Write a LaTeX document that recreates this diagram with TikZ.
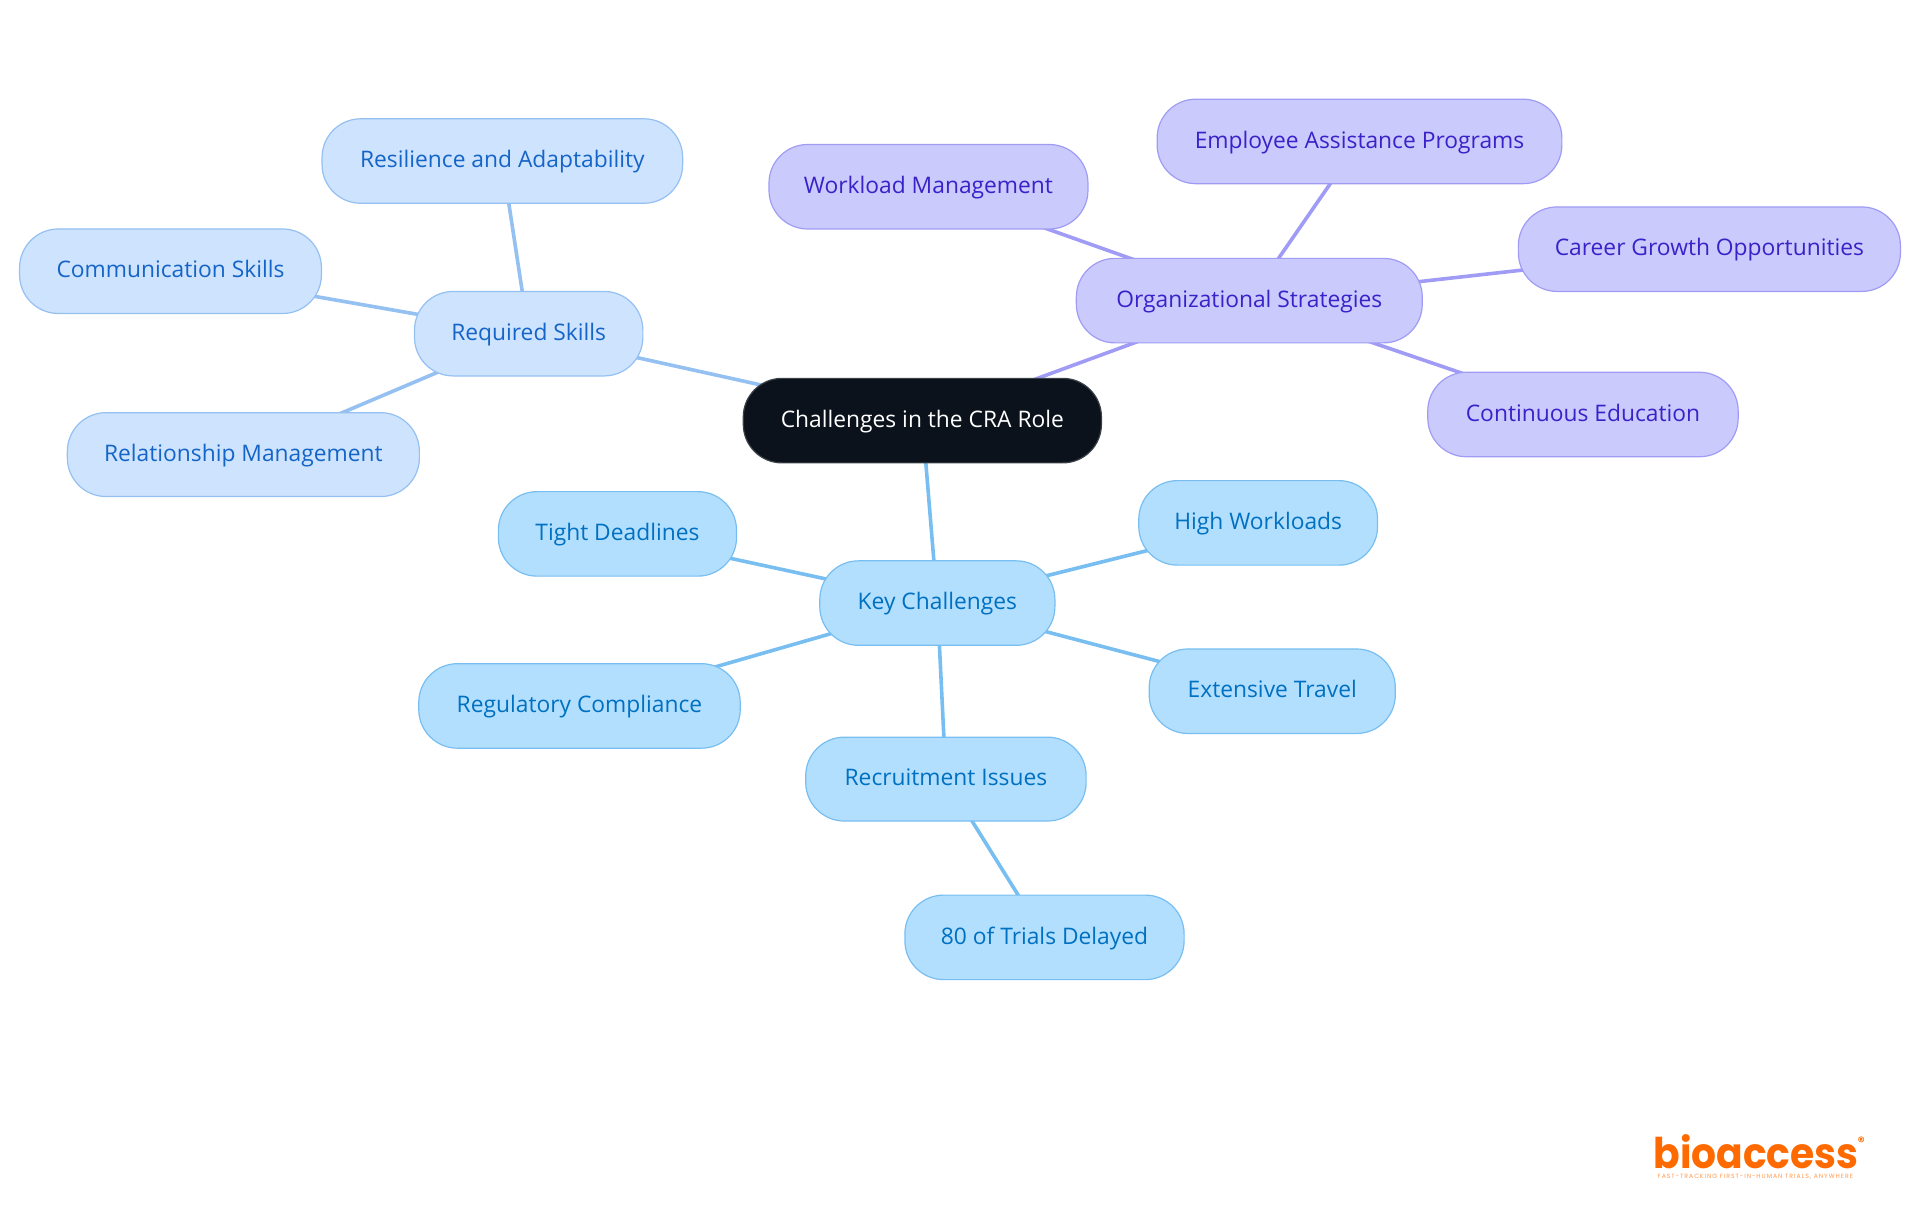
\documentclass[tikz,border=0pt]{standalone}
\usepackage{fontspec}
\setmainfont{Open Sans}
\newfontfamily\logofont{Poppins}[BoldFont={* Bold}]
\newfontfamily\tagfont{Poppins}[LetterSpace=16]
\definecolor{rootfill}{HTML}{0B121B}
\definecolor{rootline}{HTML}{3B4148}
\definecolor{keyfill}{HTML}{B3DFFF}
\definecolor{keyline}{HTML}{78BEF0}
\definecolor{keytext}{HTML}{0070C0}
\definecolor{reqfill}{HTML}{CEE3FD}
\definecolor{reqline}{HTML}{94C0F2}
\definecolor{reqtext}{HTML}{1565C8}
\definecolor{orgfill}{HTML}{CACAFD}
\definecolor{orgline}{HTML}{A09CF5}
\definecolor{orgtext}{HTML}{3A22C8}
\definecolor{logoorange}{HTML}{FF6A00}
\tikzset{
  pill/.style={draw,line width=0.9pt,rounded corners=29pt,inner sep=0pt,text height=14pt,text depth=4pt,font=\fontsize{17.1}{20}\selectfont},
  rootpill/.style={pill,fill=rootfill,draw=rootline,text=white},
  keypill/.style={pill,fill=keyfill,draw=keyline,text=keytext},
  reqpill/.style={pill,fill=reqfill,draw=reqline,text=reqtext},
  orgpill/.style={pill,fill=orgfill,draw=orgline,text=orgtext},
  keylink/.style={draw=keyline,line width=2.7pt},
  reqlink/.style={draw=reqline,line width=2.7pt},
  orglink/.style={draw=orgline,line width=2.7pt},
}
\newcommand{\pillnode}[7]{%
  \pgfmathsetmacro{\pcx}{(#2+#3)/2}%
  \pgfmathsetmacro{\pcy}{(#4+#5)/2}%
  \pgfmathsetmacro{\pw}{(#3-#2)*0.9184}%
  \pgfmathsetmacro{\ph}{(#5-#4)*0.9184}%
  \node[#6,minimum width=\pw pt,minimum height=\ph pt] (#1) at (\pcx,\pcy) {#7};%
}
\begin{document}
\begin{tikzpicture}[x=0.9184pt,y=-0.9184pt]
\useasboundingbox (0,0) rectangle (1568,992.2);
\pgfdeclarelayer{bg}\pgfsetlayers{bg,main}
\pillnode{root}{607}{899.5}{309}{378}{rootpill}{Challenges in the CRA Role}
\pillnode{req}{338.5}{525}{238}{307}{reqpill}{Required Skills}
\pillnode{res}{263}{557.5}{97}{166}{reqpill}{Resilience and Adaptability}
\pillnode{com}{16}{262.5}{187}{256}{reqpill}{Communication Skills}
\pillnode{rel}{55}{342.5}{337}{405.5}{reqpill}{Relationship Management}
\pillnode{org}{879}{1161.5}{211}{280}{orgpill}{Organizational Strategies}
\pillnode{wor}{628}{888.5}{118}{187}{orgpill}{Workload Management}
\pillnode{emp}{945}{1275.5}{81}{150}{orgpill}{Employee Assistance Programs}
\pillnode{car}{1240}{1552}{169}{238}{orgpill}{Career Growth Opportunities}
\pillnode{con}{1166}{1419.5}{304}{373}{orgpill}{Continuous Education}
\pillnode{key}{669.5}{861.5}{458}{527}{keypill}{Key Challenges}
\pillnode{tig}{407}{601.5}{401.5}{470.5}{keypill}{Tight Deadlines}
\pillnode{hig}{930}{1125}{392.5}{461.5}{keypill}{High Workloads}
\pillnode{ext}{938.5}{1139.5}{530}{599}{keypill}{Extensive Travel}
\pillnode{reg}{342}{604.5}{542}{611}{keypill}{Regulatory Compliance}
\pillnode{rec}{658}{887}{602}{670.5}{keypill}{Recruitment Issues}
\pillnode{del}{739}{967}{731}{800}{keypill}{80 of Trials Delayed}
\begin{pgfonlayer}{bg}
\draw[reqlink] (root.center)--(req.center);
\draw[reqlink] (req.center)--(res.center);
\draw[reqlink] (req.center)--(com.center);
\draw[reqlink] (req.center)--(rel.center);
\draw[orglink] (root.center)--(org.center);
\draw[orglink] (org.center)--(wor.center);
\draw[orglink] (org.center)--(emp.center);
\draw[orglink] (org.center)--(car.center);
\draw[orglink] (org.center)--(con.center);
\draw[keylink] (root.center)--(key.center);
\draw[keylink] (key.center)--(tig.center);
\draw[keylink] (key.center)--(hig.center);
\draw[keylink] (key.center)--(ext.center);
\draw[keylink] (key.center)--(reg.center);
\draw[keylink] (key.center)--(rec.center);
\draw[keylink] (rec.center)--(del.center);
\end{pgfonlayer}
\node[anchor=base,inner sep=0pt,text=logoorange,font=\logofont\bfseries\fontsize{29.4}{31}\selectfont] (logo) at (1434,954.5) {\scalebox{1}[1.08]{bioaccess}};
\node[anchor=base,inner sep=0pt,text=logoorange!70,font=\tagfont\fontsize{4.6}{5}\selectfont] (tag) at (1433.5,962.6) {FAST-TRACKING FIRST-IN-HUMAN TRIALS, ANYWHERE};
\node[anchor=center,inner sep=0pt,text=logoorange,font=\logofont\bfseries\fontsize{10}{10}\selectfont] (reg2) at (1520,932.6) {®};
\end{tikzpicture}
\end{document}
